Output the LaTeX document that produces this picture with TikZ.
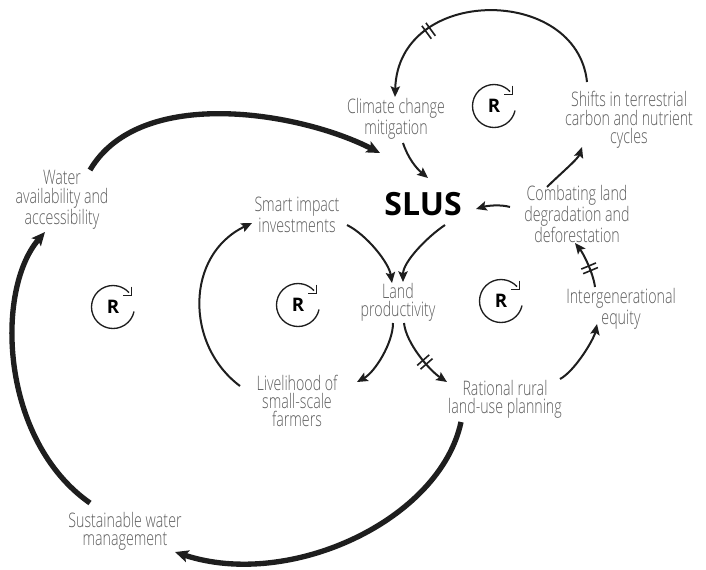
\documentclass[tikz,border=0pt]{standalone}
\usepackage{fontspec}
\IfFontExistsTF{Open Sans Light}{\setmainfont{Open Sans Light}[FakeStretch=0.71]}{\setmainfont{Open Sans}[FakeStretch=0.71]}
\newfontfamily\slusfont{Open Sans}
\usetikzlibrary{arrows.meta,decorations.markings}
\definecolor{txtgray}{RGB}{92,92,92}
\definecolor{ink}{RGB}{30,30,30}
\tikzset{
  lbl/.style={text=txtgray, align=center, inner sep=1pt, font=\fontsize{15}{13.7}\selectfont},
  conn/.style={draw=ink, line width=1.5pt, -{Stealth[length=8pt,width=7pt,inset=1.5pt]}},
  bigconn/.style={draw=ink, line width=4pt, -{Stealth[length=10pt,width=9pt,inset=2pt]}},
  hashat/.style={postaction={decorate, decoration={markings, mark=at position #1 with {\draw[ink, line width=1.2pt, -] (-2.5,-8)--(-2.5,8) (2.5,-8)--(2.5,8);}}}},
  rloop/.pic={
    \draw[ink, line width=1pt] (12:21.5) arc[start angle=12, end angle=318, radius=21.5];
    \draw[ink, line width=1pt] (18.5,-20.5)--(18.5,-11.5)--(9.5,-11.5);
    \node[font=\slusfont\bfseries\fontsize{14}{14}\selectfont, text=black, inner sep=0pt] (-r) at (0,0) {R};
  }
}
\begin{document}
\begin{tikzpicture}[x=0.75pt,y=-0.75pt]
\useasboundingbox (0,0) rectangle (706,569);
% nodes
\node[lbl] (climate) at (396,119) {Climate change\\mitigation};
\node[lbl] (shifts) at (629,120) {Shifts in terrestrial\\carbon and nutrient\\cycles};
\node[font=\slusfont\bfseries\fontsize{24}{24}\selectfont, text=black, inner sep=0pt] (slus) at (423,204) {SLUS};
\node[lbl] (combat) at (577,214) {Combating land\\degradation and\\deforestation};
\node[lbl] (water) at (62,200) {Water\\availability and\\accessibility};
\node[lbl] (smart) at (297,215) {Smart impact\\investments};
\node[lbl] (land) at (398,302) {Land\\productivity};
\node[lbl] (liveli) at (297,401) {Livelihood of\\small-scale\\farmers};
\node[lbl] (rational) at (505,399) {Rational rural\\land-use planning};
\node[lbl] (intergen) at (621,309) {Intergenerational\\equity};
\node[lbl] (sustain) at (125,531) {Sustainable water\\management};
% loop markers
\pic (r1) at (494,106) {rloop};
\pic (r2) at (113,307) {rloop};
\pic (r3) at (298,305) {rloop};
\pic (r4) at (501,301) {rloop};
% connectors
\draw[conn, hashat=0.72] ([shift={(-42,-38)}]shifts.center) .. controls +(-10,-97) and +(3,-112) .. ([shift={(-1,-22)}]climate.center);
\draw[conn] ([shift={(7,24)}]climate.center) .. controls +(5,15) and +(-12,-10) .. ([shift={(5,-26)}]slus.center);
\draw[conn] ([shift={(-30,-27)}]combat.center) .. controls +(12,-12) and +(-4,12) .. ([shift={(-47,27)}]shifts.center);
\draw[conn] ([shift={(-67,-7)}]combat.center) .. controls +(-10,-3) and +(10,-3) .. ([shift={(53,5)}]slus.center);
\draw[bigconn] ([shift={(28,-30)}]water.center) .. controls +(50,-85) and +(-80,-41) .. ([shift={(-43,-51)}]slus.center);
\draw[conn] ([shift={(22,21)}]slus.center) .. controls +(-18,12) and +(0,-20) .. ([shift={(5,-20)}]land.center);
\draw[conn] ([shift={(50,10)}]smart.center) .. controls +(20,10) and +(-3,-20) .. ([shift={(-6,-19)}]land.center);
\draw[conn] ([shift={(-5,21)}]land.center) .. controls +(0,20) and +(18,-10) .. ([shift={(60,-19)}]liveli.center);
\draw[conn, hashat=0.6] ([shift={(6,21)}]land.center) .. controls +(2,20) and +(-18,-12) .. ([shift={(-58,-17)}]rational.center);
\draw[conn] ([shift={(-57,-15)}]liveli.center) .. controls +(-55,-41) and +(-67,32) .. ([shift={(-45,8)}]smart.center);
\draw[conn] ([shift={(55,-20)}]rational.center) .. controls +(15,-8) and +(-3,15) .. ([shift={(-24,15)}]intergen.center);
\draw[conn, hashat=0.4] ([shift={(-26,-22)}]intergen.center) .. controls +(-2,-15) and +(8,10) .. ([shift={(-2,29)}]combat.center);
\draw[bigconn] ([shift={(-44,23)}]rational.center) .. controls +(-21,98) and +(115,38) .. ([shift={(50,21)}]sustain.center);
\draw[bigconn] ([shift={(-35,-28)}]sustain.center) .. controls +(-90,-63) and +(-50,58) .. ([shift={(-17,32)}]water.center);
\end{tikzpicture}
\end{document}
